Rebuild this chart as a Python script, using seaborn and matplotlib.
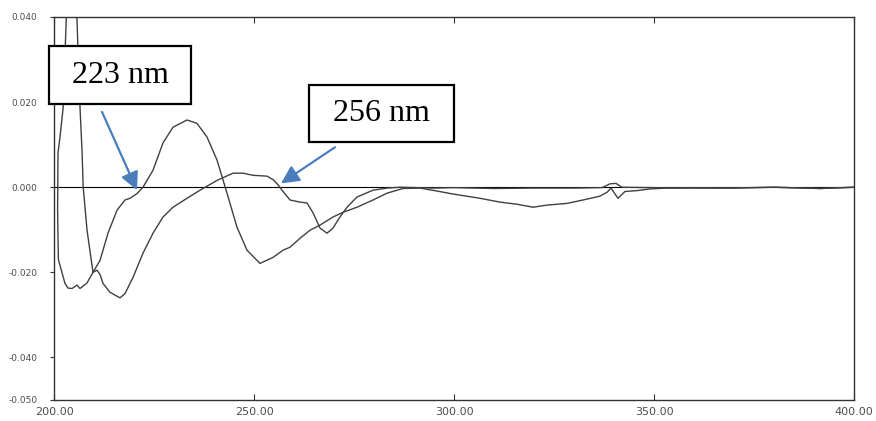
import numpy as np
import pandas as pd
import seaborn as sns
import matplotlib.pyplot as plt
from matplotlib.patches import Rectangle

# curve with the positive band near 234 nm (drawn in scan order)
wl_a = [203.3, 202.3, 201.5, 201.0, 200.9, 201.0, 201.1, 202.75, 203.5, 204.5, 205.75, 206.5,
        208.25, 209.75, 211.5, 213.5, 215.75, 217.75, 219.0, 220.75, 222.25, 224.75, 227.25,
        229.75, 233.25, 235.75, 238.25, 240.75, 243.25, 245.75, 248.25, 251.5, 254.75, 257.25,
        259.0, 261.5, 264.0, 266.5, 269.75, 272.25, 275.75, 279.75, 283.25, 286.5, 287.25,
        291.5, 295.75, 299.75, 306.5, 311.5, 315.75, 319.75, 323.25, 328.25, 332.25, 336.5,
        338.25, 339.25, 341.0, 342.75, 345.75, 349.0, 353.25, 360.0, 370.0, 380.0, 391.5, 400.0]
cd_a = [0.046, 0.0188, 0.0118, 0.008, -0.005, -0.012, -0.017, -0.0226, -0.0237, -0.0238,
        -0.0230, -0.0238, -0.0225, -0.0200, -0.0172, -0.0108, -0.0054, -0.0030, -0.0026,
        -0.0015, 0.0, 0.0040, 0.0104, 0.0141, 0.0158, 0.0150, 0.0118, 0.0064, -0.0014,
        -0.0094, -0.0148, -0.0179, -0.0165, -0.0148, -0.0141, -0.0120, -0.0101, -0.0089,
        -0.0070, -0.0059, -0.0047, -0.0030, -0.0014, -0.0005, -0.0003, -0.0002, -0.0009,
        -0.0016, -0.0026, -0.0035, -0.0040, -0.0047, -0.0042, -0.0038, -0.0030, -0.0021,
        -0.0012, -0.0002, -0.0026, -0.0010, -0.0008, -0.0004, -0.0002, -0.0001, -0.0002,
        0.0, -0.0003, 0.0]

# curve with the 256 nm shoulder
wl_b = [205.5, 206.5, 207.0, 207.3, 208.25, 209.75, 210.75, 211.5, 212.25, 214.0, 216.5,
        217.75, 219.0, 219.75, 222.25, 224.75, 227.25, 229.75, 233.25, 236.5, 240.75, 244.75,
        247.25, 249.75, 253.25, 254.75, 256.0, 257.0, 259.0, 261.5, 263.25, 264.75, 266.5,
        268.25, 269.75, 271.5, 273.25, 275.75, 279.75, 283.25, 286.5, 295.0, 300.0, 310.0,
        320.0, 330.0, 337.0, 339.0, 340.5, 342.0, 350.0, 356.5, 358.0, 363.5, 367.0, 380.0,
        391.5, 400.0]
cd_b = [0.046, 0.0188, 0.0087, 0.0, -0.0100, -0.0200, -0.0195, -0.0205, -0.0226, -0.0247,
        -0.0260, -0.0250, -0.0226, -0.0212, -0.0155, -0.0108, -0.0070, -0.0047, -0.0026,
        -0.0007, 0.0016, 0.0033, 0.0033, 0.0028, 0.0026, 0.0018, 0.0006, -0.0007, -0.0030,
        -0.0035, -0.0037, -0.0060, -0.0096, -0.0108, -0.0096, -0.0070, -0.0047, -0.0023,
        -0.0007, -0.0002, 0.0, -0.0002, -0.0001, -0.0003, -0.0002, -0.0002, -0.0001, 0.0008,
        0.0009, 0.0, -0.0001, -0.0002, -0.0002, -0.0002, -0.0002, 0.0, -0.0003, 0.0]

x_ticks = [200, 250, 300, 350, 400]
y_ticks = [0.040, 0.020, 0.000, -0.020, -0.040, -0.050]

labels = ["223 nm", "256 nm"]
arrow_tips = [(220.75, -0.0007), (256.75, 0.0009)]
arrow_tails = [(212.0, 0.0177), (270.25, 0.0094)]
boxes = [(198.75, 0.01953, 35.5, 0.01365), (263.75, 0.01059, 36.25, 0.01341)]

sns.set_theme(style="ticks")
plt.rcParams["font.family"] = ["DejaVu Sans"]

fig = plt.figure(figsize=(8.76, 4.21), dpi=100)
ax = fig.add_axes([54 / 876, 1 - 400 / 421, 800 / 876, 383 / 421])

df_a = pd.DataFrame({"wl": wl_a, "cd": cd_a})
df_b = pd.DataFrame({"wl": wl_b, "cd": cd_b})
sns.lineplot(data=df_a, x="wl", y="cd", sort=False, estimator=None, color="#404040", lw=1.0, ax=ax)
sns.lineplot(data=df_b, x="wl", y="cd", sort=False, estimator=None, color="#404040", lw=1.0, ax=ax)
ax.axhline(0, color="black", lw=0.8, zorder=1)

ax.set_xlim(200, 400)
ax.set_ylim(-0.050, 0.040)
ax.set_xticks(x_ticks)
ax.set_xticklabels([f"{v:.2f}" for v in x_ticks], fontsize=8, color="#4d4d4d")
ax.set_yticks(y_ticks)
ax.set_yticklabels([f"{v:.3f}" for v in y_ticks], fontsize=6.5, color="#4d4d4d")
ax.set_xlabel("")
ax.set_ylabel("")
ax.tick_params(axis="x", direction="in", length=4, width=0.8, color="#333333", top=True, pad=5)
ax.tick_params(axis="y", direction="out", length=3, width=0.8, color="#333333", pad=9)
for s in ax.spines.values():
    s.set_visible(True)
    s.set_color("#333333")
    s.set_linewidth(1.0)

for lab, tip, tail, (bx, by, bw, bh) in zip(labels, arrow_tips, arrow_tails, boxes):
    ax.annotate("", xy=tip, xytext=tail,
                arrowprops=dict(arrowstyle="-|>,head_length=0.6,head_width=0.3",
                                color="#4A7EBB", lw=1.6, mutation_scale=18,
                                shrinkA=0, shrinkB=0), zorder=4)
    ax.add_patch(Rectangle((bx, by), bw, bh, facecolor="white", edgecolor="black",
                           lw=1.6, zorder=5, clip_on=False))
    ax.text(bx + bw / 2, by + bh / 2, lab, ha="center", va="center", fontsize=23,
            family=["Liberation Serif"], color="black", zorder=6)

fig.savefig("out.png", dpi=100)
